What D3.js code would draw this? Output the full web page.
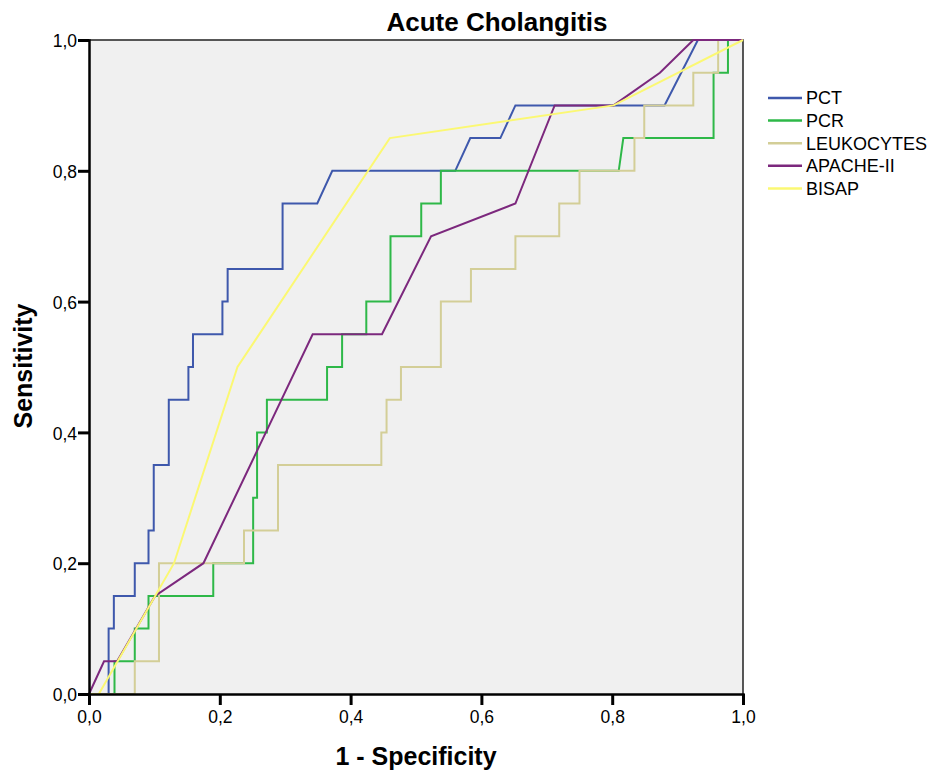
<!DOCTYPE html>
<html>
<head>
<meta charset="utf-8">
<script src="https://cdn.jsdelivr.net/npm/d3@7"></script>
<style>
  body { margin: 0; background: #fff; }
  svg { font-family: "Liberation Sans", Arial, sans-serif; }
</style>
</head>
<body>
<svg id="chart" width="929" height="771"></svg>
<script>
// ROC curves, [1 - specificity, sensitivity]
const pct = [[0,0],[0.030,0],[0.030,0.1],[0.038,0.1],[0.038,0.15],[0.070,0.15],[0.070,0.2],[0.091,0.2],[0.091,0.25],[0.099,0.25],[0.099,0.35],[0.122,0.35],[0.122,0.45],[0.152,0.45],[0.152,0.5],[0.159,0.5],[0.159,0.55],[0.204,0.55],[0.204,0.6],[0.212,0.6],[0.212,0.65],[0.296,0.65],[0.296,0.75],[0.349,0.75],[0.372,0.8],[0.560,0.8],[0.583,0.85],[0.629,0.85],[0.652,0.9],[0.880,0.9],[0.931,1],[1,1]];
const pcr = [[0,0],[0.039,0],[0.039,0.05],[0.070,0.05],[0.070,0.1],[0.091,0.1],[0.091,0.15],[0.190,0.15],[0.190,0.2],[0.251,0.2],[0.251,0.3],[0.257,0.3],[0.257,0.4],[0.272,0.4],[0.272,0.45],[0.364,0.45],[0.364,0.5],[0.387,0.5],[0.387,0.55],[0.424,0.55],[0.424,0.6],[0.461,0.6],[0.461,0.7],[0.508,0.7],[0.508,0.75],[0.538,0.75],[0.538,0.8],[0.810,0.8],[0.817,0.85],[0.955,0.85],[0.955,0.95],[0.977,0.95],[0.977,1],[1,1]];
const leuko = [[0,0],[0.070,0],[0.070,0.05],[0.107,0.05],[0.107,0.2],[0.237,0.2],[0.237,0.25],[0.289,0.25],[0.289,0.35],[0.447,0.35],[0.447,0.4],[0.455,0.4],[0.455,0.45],[0.477,0.45],[0.477,0.5],[0.538,0.5],[0.538,0.6],[0.584,0.6],[0.584,0.65],[0.652,0.65],[0.652,0.7],[0.719,0.7],[0.719,0.75],[0.750,0.75],[0.750,0.8],[0.834,0.8],[0.834,0.85],[0.849,0.85],[0.849,0.9],[0.924,0.9],[0.924,0.95],[0.962,0.95],[0.962,1],[1,1]];
const apache = [[0,0],[0.023,0.05],[0.043,0.05],[0.101,0.15],[0.175,0.2],[0.342,0.55],[0.448,0.55],[0.523,0.7],[0.652,0.75],[0.712,0.9],[0.802,0.9],[0.873,0.95],[0.924,1],[1,1]];
const bisap = [[0,0],[0.015,0],[0.130,0.2],[0.227,0.5],[0.460,0.85],[0.802,0.9],[1,1]];

const seriesNames = ['PCT', 'PCR', 'LEUKOCYTES', 'APACHE-II', 'BISAP'];
const seriesData = [pct, pcr, leuko, apache, bisap];
const colors = ['#3E58AC', '#2EB848', '#D3CE97', '#7C287D', '#FBF873'];
const ticks = [0, 0.2, 0.4, 0.6, 0.8, 1.0];

const svg = d3.select('#chart');
const plotLeft = 89, plotRight = 743, plotTop = 40, plotBottom = 694;

const x = d3.scaleLinear().domain([0, 1]).range([plotLeft, plotRight]);
const y = d3.scaleLinear().domain([0, 1]).range([plotBottom, plotTop]);
const fmt = d => d3.format('.1f')(d).replace('.', ',');

// plot background
svg.append('rect')
  .attr('x', plotLeft).attr('y', plotTop)
  .attr('width', plotRight - plotLeft).attr('height', plotBottom - plotTop)
  .attr('fill', '#F0F0F0');

// top + right frame
svg.append('path')
  .attr('d', `M${plotLeft},${plotTop}H${plotRight}V${plotBottom}`)
  .attr('fill', 'none').attr('stroke', '#222').attr('stroke-width', 1.5);

const line = d3.line().x(d => x(d[0])).y(d => y(d[1]));

svg.append('g').selectAll('path')
  .data(seriesData)
  .join('path')
  .attr('d', line)
  .attr('fill', 'none')
  .attr('stroke', (d, i) => colors[i])
  .attr('stroke-width', 2)
  .attr('stroke-linejoin', 'miter');

// axes
const xAxis = svg.append('g')
  .attr('transform', `translate(0,${plotBottom})`)
  .call(d3.axisBottom(x).tickValues(ticks).tickFormat(fmt).tickSize(11).tickPadding(6));
const yAxis = svg.append('g')
  .attr('transform', `translate(${plotLeft},0)`)
  .call(d3.axisLeft(y).tickValues(ticks).tickFormat(fmt).tickSize(11).tickPadding(1));

[xAxis, yAxis].forEach(g => {
  g.select('.domain').attr('stroke', '#000').attr('stroke-width', 2.5);
  g.selectAll('.tick line').attr('stroke', '#000').attr('stroke-width', 3);
  g.selectAll('.tick text').attr('fill', '#000').style('font-size', '17.5px')
    .style('font-family', '"Liberation Sans", Arial, sans-serif');
});
yAxis.selectAll('.tick text').attr('dy', '0.38em');

// title and axis labels
svg.append('text')
  .attr('x', 497).attr('y', 31)
  .attr('text-anchor', 'middle')
  .style('font-size', '26px').style('font-weight', 'bold')
  .text('Acute Cholangitis');

svg.append('text')
  .attr('x', 416).attr('y', 765)
  .attr('text-anchor', 'middle')
  .style('font-size', '25px').style('font-weight', 'bold')
  .text('1 - Specificity');

svg.append('text')
  .attr('transform', 'translate(32,366) rotate(-90)')
  .attr('text-anchor', 'middle')
  .style('font-size', '25px').style('font-weight', 'bold')
  .text('Sensitivity');

// legend
const legend = svg.append('g').selectAll('g')
  .data(seriesNames)
  .join('g')
  .attr('transform', (d, i) => `translate(768,${98 + i * 22.6})`);
legend.append('line')
  .attr('x1', 0).attr('x2', 34)
  .attr('stroke', (d, i) => colors[i]).attr('stroke-width', 2.5);
legend.append('text')
  .attr('x', 38).attr('dy', '0.36em')
  .style('font-size', '18px')
  .text(d => d);
</script>
</body>
</html>
